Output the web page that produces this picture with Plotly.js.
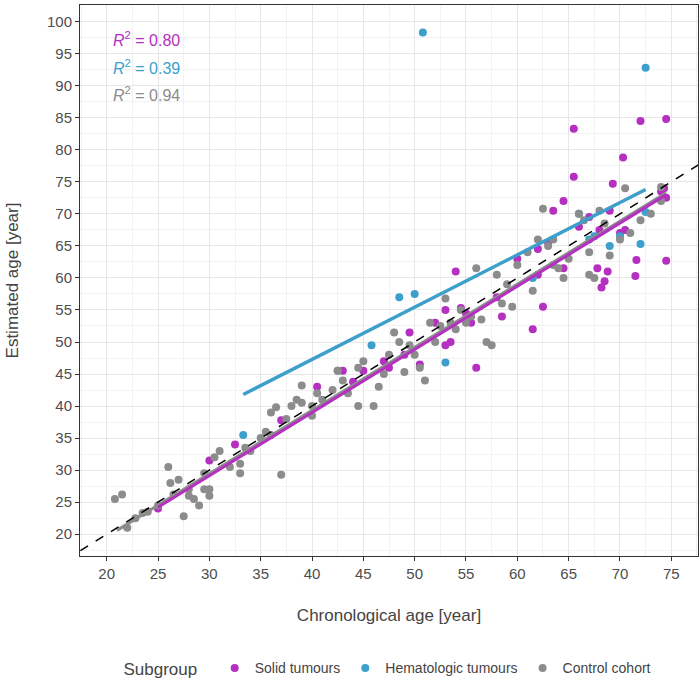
<!DOCTYPE html>
<html>
<head>
<meta charset="utf-8">
<script src="https://cdn.plot.ly/plotly-3.0.1.min.js"></script>
<style>body{margin:0;background:#fff}#myDiv{width:700px;height:687px}</style>
</head>
<body>
<div id="myDiv"></div>
<script>
// control cohort
var ctrlX = [20.8,21.5,22,22.8,23.5,24,25,26,26.2,26.5,27,27.5,28,28,28.5,29,29.5,29.5,30,30,30.5,31,32,33,33,33.5,34,35,35.5,36,36,36.5,37,37.5,38,38.5,39,39,40,40,40.5,41,42,42.5,43,43.5,44.5,44.5,45,46,46.5,47,47.5,48,48.5,49,49.5,50,50.5,51,51.5,52,52.5,53,53.5,54,54.5,55,55.5,56,56.5,57,57.5,58,58.5,59,59.5,60,61,61.5,62,62.5,63,63.5,63.5,64,64.5,65,66,66.5,67,67,67.5,68,68.5,69,70,70.5,71,72,73,74,74];
var ctrlY = [25.5,26.2,21,22.5,23.3,23.5,24.5,30.5,28,26.2,28.5,22.8,27,26,25.5,24.5,29.5,27,27,26,32,33,30.5,31,29.5,33.5,33,35,36,35.5,39,39.8,29.3,38,40,41,40.5,43.2,40,38.5,42,41,42.5,45.5,44,42,40,46,47,40,43,45,48,51.5,50,45.3,49.5,48,46,44,53,50,52.5,56.8,53,52,55,53,54,61.5,53.5,50,49.5,60.5,56,59,55.5,62,64,58,66,70.8,65,66,62,61.5,60,63,70,69,64,60.5,60,70.5,68.5,63.5,66,74,67,69,70,72,74.2];
// solid tumours
var solidX = [25,30,32.5,37,40.5,43,44,45,47,47.5,49,49.5,50.5,52,53,53,53.5,54,54.5,55,55.5,56,58,58.5,60,61.5,62,62,62.5,63,63.5,64.5,64.5,65.5,65.5,66,67,67.8,68,68.2,68.5,68.8,69,69.3,70,70.3,70.5,71.5,71.6,72,74,74.3,74.5,74.5,74.5];
var solidY = [24,31.5,34,37.8,43,45.5,43.8,45.5,47,46,48,51.5,46.5,53,49.5,55,50,61,55.3,54.5,53,46,57,54,63,52,60.5,64.5,55.5,65.5,70.5,61.5,72,75.8,83.3,68,69.5,61.5,67.5,58.5,59.5,61,70.5,74.7,67,78.8,67.5,60.3,62.8,84.5,73.5,74,72.5,84.8,62.7];
// hematologic tumours
var hemX = [33.3,42.5,45.8,48.5,50,50.8,53,61.5,66,67,67.5,69,70,72,72.5,72.5];
var hemY = [35.5,45.5,49.5,57,57.5,98.3,46.8,60,70,66,66.5,65,66.5,65.3,70.3,92.8];
// fitted lines (endpoints)
var fitSolidX = [25,74.5], fitSolidY = [24.2,73];
var fitCtrlX = [21,74.5], fitCtrlY = [20.6,73.3];
var fitHemX = [33.3,72.5], fitHemY = [41.8,73.8];
var idX = [10,90], idY = [10,90];

var purple = '#b52fc0', blue = '#3d9fcb', grey = '#8c8c8c';
function pts(x, y, c, name) {
    return {type:'scatter', mode:'markers', x:x, y:y, name:name,
        marker:{color:c, size:8}};
}
function ln(x, y, c, w, dash) {
    return {type:'scatter', mode:'lines', x:x, y:y, showlegend:false,
        line:{color:c, width:w, dash:dash||'solid'}, hoverinfo:'skip'};
}
var data = [
    pts(solidX, solidY, purple, 'Solid tumours'),
    pts(hemX, hemY, blue, 'Hematologic tumours'),
    pts(ctrlX, ctrlY, grey, 'Control cohort'),
    ln(fitCtrlX, fitCtrlY, grey, 3),
    ln(fitSolidX, fitSolidY, purple, 3),
    ln(fitHemX, fitHemY, blue, 3.5),
    ln(idX, idY, 'black', 1.5, 'dash')
];
var ann = [['0.80', purple, 0.96], ['0.39', blue, 0.91], ['0.94', grey, 0.86]].map(function (a) {
    return {xref:'paper', yref:'paper', x:0.05, y:a[2], xanchor:'left', showarrow:false,
        text:'<i>R</i><sup>2</sup> = ' + a[0], font:{color:a[1], size:16}};
});
var axis = {showline:true, linecolor:'#333', mirror:true, gridcolor:'#e6e6e6', zeroline:false,
    ticks:'outside', ticklen:4, tickcolor:'#333', dtick:5, tickfont:{size:15, color:'#4d4d4d'},
    automargin:false, minor:{showgrid:true, gridcolor:'#f2f2f2', dtick:2.5}};
var layout = {
    width:700, height:687, margin:{l:80, r:2, t:5, b:122},
    font:{family:'Liberation Sans, Arial, sans-serif'},
    plot_bgcolor:'#fff', paper_bgcolor:'#fff',
    xaxis:Object.assign({}, axis, {range:[17.4,77.6], title:{text:'Chronological age [year]', font:{size:17}, standoff:28}}),
    yaxis:Object.assign({}, axis, {range:[16.6,102.6], title:{text:'Estimated age [year]', font:{size:17}, standoff:24}}),
    annotations:ann,
    legend:{orientation:'h', x:0.5, xanchor:'center', y:-0.175, yanchor:'top',
        title:{text:'Subgroup  ', font:{size:17}}, font:{size:14}},
    showlegend:true
};
Plotly.newPlot('myDiv', data, layout, {displayModeBar:false});
</script>
</body>
</html>
